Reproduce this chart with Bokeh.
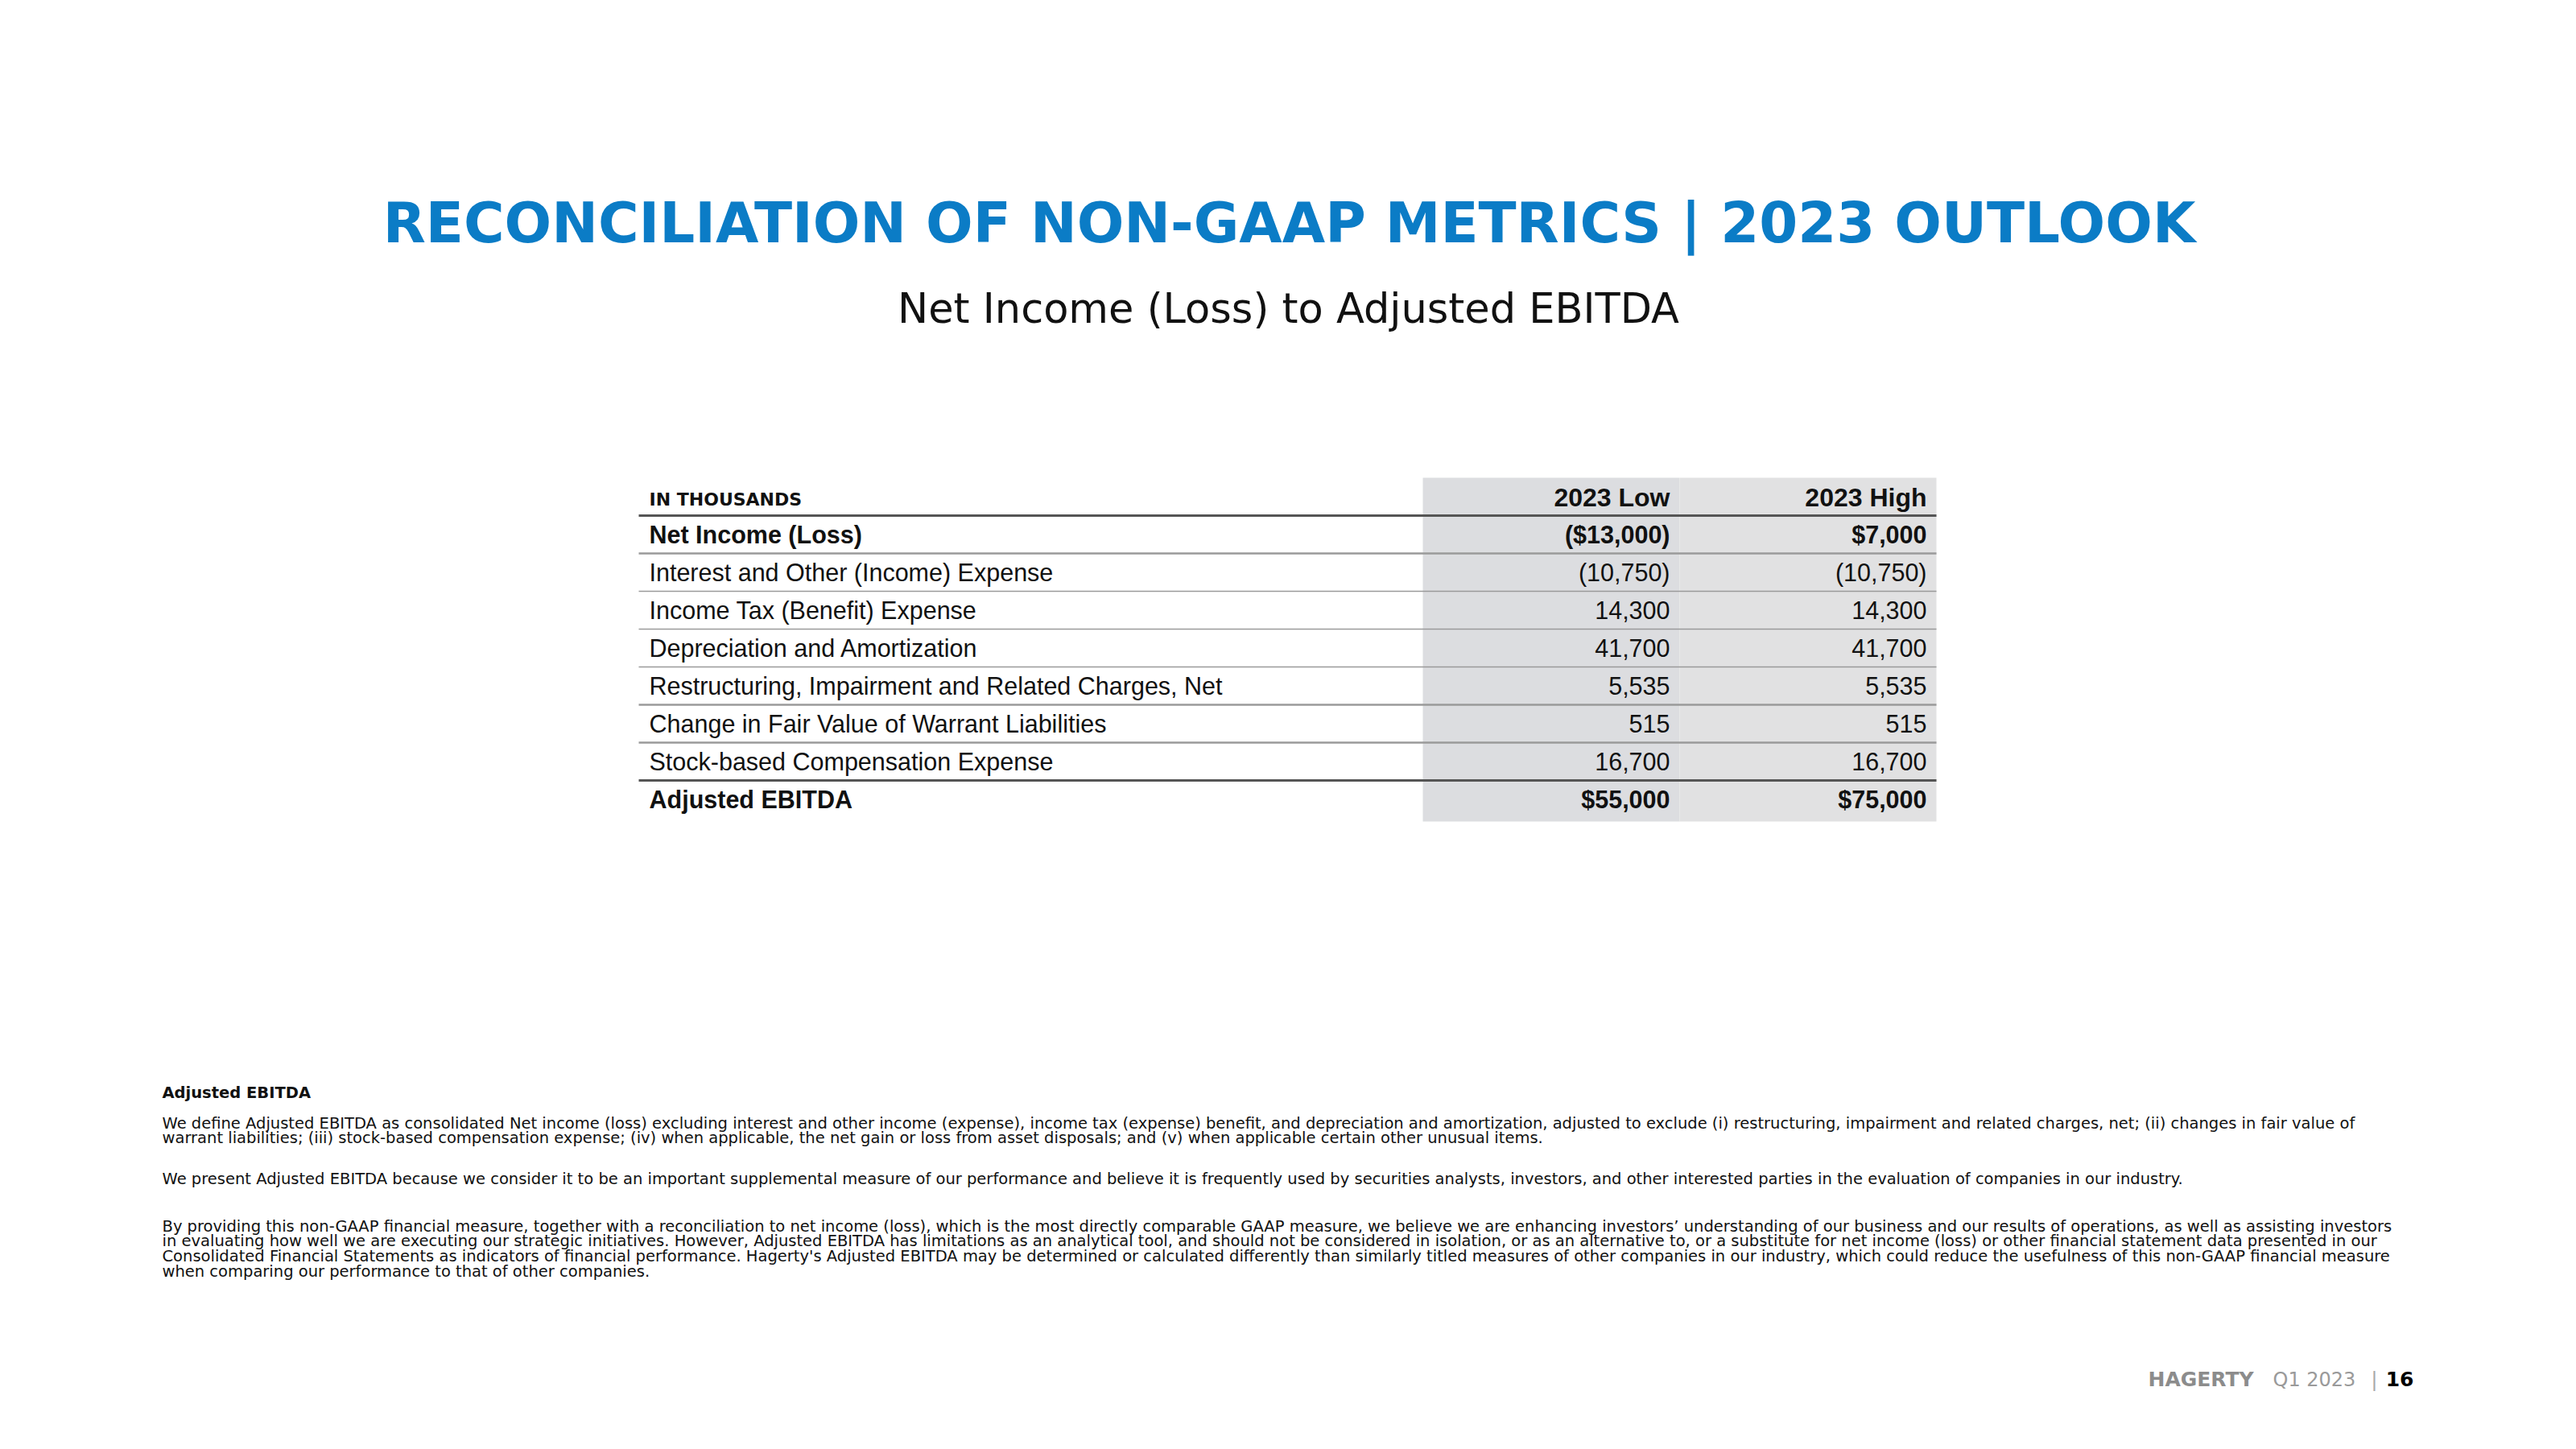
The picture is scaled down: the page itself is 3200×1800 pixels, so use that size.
from bokeh.plotting import figure
from bokeh.models import Range1d
from bokeh.core.properties import value
from bokeh.embed import file_html
from bokeh.resources import INLINE

# ---------------- data ----------------
title = "RECONCILIATION OF NON-GAAP METRICS | 2023 OUTLOOK"
subtitle = "Net Income (Loss) to Adjusted EBITDA"
unit_label = "IN THOUSANDS"
columns = ["2023 Low", "2023 High"]
row_labels = [
    "Net Income (Loss)",
    "Interest and Other (Income) Expense",
    "Income Tax (Benefit) Expense",
    "Depreciation and Amortization",
    "Restructuring, Impairment and Related Charges, Net",
    "Change in Fair Value of Warrant Liabilities",
    "Stock-based Compensation Expense",
    "Adjusted EBITDA",
]
low_values = [-13000, -10750, 14300, 41700, 5535, 515, 16700, 55000]
high_values = [7000, -10750, 14300, 41700, 5535, 515, 16700, 75000]
total_rows = [0, 7]  # bold rows shown with $ sign

note_heading = "Adjusted EBITDA"
note_paragraphs = [
    [
        "We define Adjusted EBITDA as consolidated Net income (loss) excluding interest and other income (expense), income tax (expense) benefit, and depreciation and amortization, adjusted to exclude (i) restructuring, impairment and related charges, net; (ii) changes in fair value of",
        "warrant liabilities; (iii) stock-based compensation expense; (iv) when applicable, the net gain or loss from asset disposals; and (v) when applicable certain other unusual  items.",
    ],
    [
        "We present Adjusted EBITDA because we consider it to be an important supplemental measure of our performance and believe it is frequently used by securities analysts, investors, and other interested parties in the evaluation of companies in our industry.",
    ],
    [
        "By providing this non-GAAP financial measure, together with a reconciliation to net income (loss), which is the most directly comparable GAAP measure, we believe we are enhancing investors\u2019 understanding of our business and our results of operations, as well as assisting investors",
        "in evaluating how well we are executing our strategic initiatives. However, Adjusted EBITDA has limitations as an analytical tool, and should not be considered in isolation, or as an alternative to, or a substitute for net income (loss) or other financial statement data presented in our",
        "Consolidated Financial Statements as indicators of financial performance. Hagerty's Adjusted EBITDA may be determined or calculated differently than similarly titled measures of other companies in our industry, which could reduce the usefulness of this non-GAAP financial measure",
        "when comparing our performance to that of other companies.",
    ],
]
footer_brand = "HAGERTY"
footer_period = "Q1 2023"
footer_page = "16"


def fmt(v, dollar):
    s = f"{abs(v):,}"
    if dollar:
        s = "$" + s
    if v < 0:
        s = "(" + s + ")"
    return s


def bl(y, size):
    """data y that puts the rendered alphabetic baseline at screen y"""
    return y - 0.37 * size


# ---------------- figure ----------------
W, H = 3184, 1784
p = figure(width=W, height=H, x_range=Range1d(0, W), y_range=Range1d(H, 0),
           output_backend="svg", toolbar_location=None, min_border=0,
           x_axis_location=None, y_axis_location=None)
p.grid.visible = False
p.outline_line_color = None
p.background_fill_color = "white"
p.border_fill_color = "white"

TABLE_FONT = value("Liberation Sans")
NOTE_FONT = value("DejaVu Sans")

# Title & subtitle
p.text(x=[1601], y=[bl(302, 69)], text=[title], text_font=value("DejaVu Sans"),
       text_font_size="69px", text_font_style="bold", text_color="#0b7cc6",
       text_align="center", text_baseline="alphabetic")
p.text(x=[1600], y=[bl(402, 51)], text=[subtitle], text_font=value("DejaVu Sans"),
       text_font_size="51px", text_color="#111111",
       text_align="center", text_baseline="alphabetic")

# Table geometry
left_x = 793
col_left = 1767
col_w = 319
right_x = col_left + col_w * len(columns)
line_top = 640
row_h = 47
n = len(row_labels)

# shaded value columns
p.quad(left=[col_left + i * col_w for i in range(len(columns))],
       right=[col_left + (i + 1) * col_w for i in range(len(columns))],
       top=[593] * len(columns), bottom=[line_top + n * row_h + 4] * len(columns),
       fill_color=["#dcdde0", "#e1e1e2"], line_color=None)

# rules
rule_y = [line_top + k * row_h for k in range(n)]
rule_color = []
rule_width = []
for k in range(n):
    if k == 0 or k == n - 1:
        rule_color.append("#555555"); rule_width.append(3)
    elif k in (1, 5, 6):
        rule_color.append("#9a9a9a"); rule_width.append(2.5)
    else:
        rule_color.append("#9a9a9a"); rule_width.append(1.6)
p.segment(x0=[left_x] * n, x1=[right_x] * n, y0=rule_y, y1=rule_y,
          line_color=rule_color, line_width=rule_width)

# header
p.text(x=[806], y=[bl(628, 22)], text=[unit_label], text_font=NOTE_FONT, text_font_size="22px",
       text_font_style="bold", text_color="#111111", text_align="left", text_baseline="alphabetic")
p.text(x=[col_left + (i + 1) * col_w - 12 for i in range(len(columns))], y=[bl(629, 32)] * len(columns),
       text=columns, text_font=TABLE_FONT, text_font_size="32px", text_font_style="bold",
       text_color="#111111", text_align="right", text_baseline="alphabetic")

# rows
for bold in (True, False):
    idx = [i for i in range(n) if (i in total_rows) == bold]
    ys = [bl(line_top + i * row_h + 35, 30.5) for i in idx]
    style = "bold" if bold else "normal"
    p.text(x=[806] * len(idx), y=ys, text=[row_labels[i] for i in idx], text_font=TABLE_FONT,
           text_font_size="30.5px", text_font_style=style, text_color="#111111",
           text_align="left", text_baseline="alphabetic")
    for c, vals in enumerate([low_values, high_values]):
        p.text(x=[col_left + (c + 1) * col_w - 12] * len(idx), y=ys,
               text=[fmt(vals[i], bold) for i in idx], text_font=TABLE_FONT,
               text_font_size="30.5px", text_font_style=style, text_color="#111111",
               text_align="right", text_baseline="alphabetic")

# footnotes
p.text(x=[201], y=[bl(1364, 19.5)], text=[note_heading], text_font=NOTE_FONT, text_font_size="19.5px",
       text_font_style="bold", text_color="#111111", text_align="left", text_baseline="alphabetic")
para_start = [1402, 1471, 1530]
line_gap = 18.7
for start, lines in zip(para_start, note_paragraphs):
    p.text(x=[201] * len(lines), y=[bl(start + j * line_gap, 19.5) for j in range(len(lines))], text=lines,
           text_font=NOTE_FONT, text_font_size="19.5px", text_color="#111111",
           text_align="left", text_baseline="alphabetic")

# footer
p.text(x=[2668], y=[bl(1722, 25)], text=[footer_brand], text_font=NOTE_FONT, text_font_size="25px",
       text_font_style="bold", text_color="#8c8c8c", text_align="left", text_baseline="alphabetic")
p.text(x=[2823], y=[bl(1722, 24)], text=[footer_period], text_font=NOTE_FONT, text_font_size="24px",
       text_color="#9a9a9a", text_align="left", text_baseline="alphabetic")
p.text(x=[2949], y=[bl(1722, 25)], text=["|"], text_font=NOTE_FONT, text_font_size="25px",
       text_color="#aaaaaa", text_align="center", text_baseline="alphabetic")
p.text(x=[2998], y=[bl(1722, 25)], text=[footer_page], text_font=NOTE_FONT, text_font_size="25px",
       text_font_style="bold", text_color="#000000", text_align="right", text_baseline="alphabetic")

open("out.html", "w").write(file_html(p, INLINE))
